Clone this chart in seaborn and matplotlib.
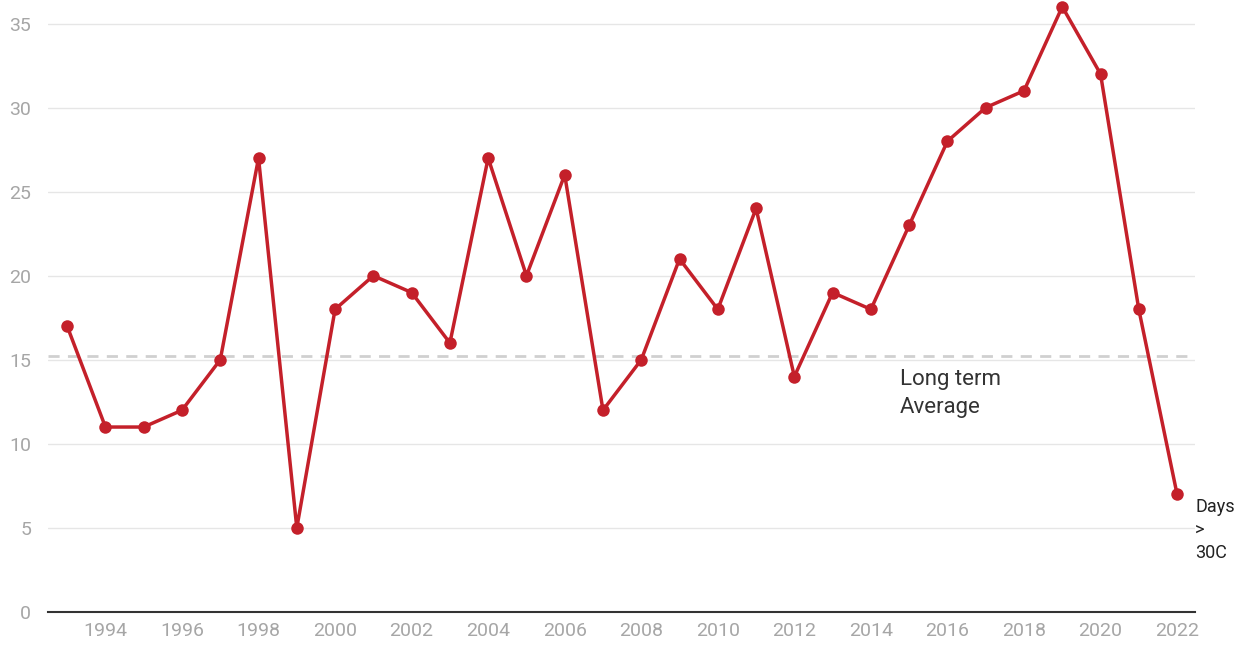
import matplotlib
matplotlib.use("Agg")
import matplotlib.pyplot as plt
import seaborn as sns
import pandas as pd

sns.set_style("white")
plt.rcParams['font.family'] = ['Roboto', 'DejaVu Sans']

years = list(range(1993, 2023))
days_over_30 = [17, 11, 11, 12, 15, 27, 5, 18, 20, 19, 16, 27, 20, 26, 12,
                15, 21, 18, 24, 14, 19, 18, 23, 28, 30, 31, 36, 32, 18, 7]
long_term_avg = 15.2
year_ticks = list(range(1994, 2023, 2))
value_ticks = [0, 5, 10, 15, 20, 25, 30, 35]

df = pd.DataFrame({"year": years, "days": days_over_30})

fig = plt.figure(figsize=(12.54, 6.48), dpi=100)
ax = fig.add_axes([0.0383, 0.0556, 0.9147, 0.9444])

for v in value_ticks[1:]:
    ax.axhline(v, color="#e6e6e6", lw=1, zorder=0)
ax.axhline(long_term_avg, color="#d0d0d0", lw=2, ls=(0, (4, 3)), zorder=1)

sns.lineplot(data=df, x="year", y="days", ax=ax, color="#c4202a", lw=2.5,
             marker="o", markersize=9, markeredgewidth=0, zorder=3)

ax.set_xlim(1992.5, 2022.47)
ax.set_ylim(0, 36.4)
ax.set_xticks(year_ticks)
ax.set_yticks(value_ticks)
ax.tick_params(axis="both", length=0, labelsize=14, colors="#a6a6a6")
ax.tick_params(axis="x", pad=7)
ax.tick_params(axis="y", pad=12)
for side in ["top", "right", "left"]:
    ax.spines[side].set_visible(False)
ax.spines["bottom"].set_color("#333333")
ax.spines["bottom"].set_linewidth(1.5)
ax.set_xlabel("")
ax.set_ylabel("")

ax.text(2014.75, 13.0, "Long term\nAverage", fontsize=16, color="#333333",
        va="center", ha="left", linespacing=1.4)
ax.text(1.0, 6.75, "Days\n>\n30C", transform=ax.get_yaxis_transform(),
        fontsize=13, color="#222222", va="top", ha="left", linespacing=1.35)

fig.savefig("out.png", dpi=100)
